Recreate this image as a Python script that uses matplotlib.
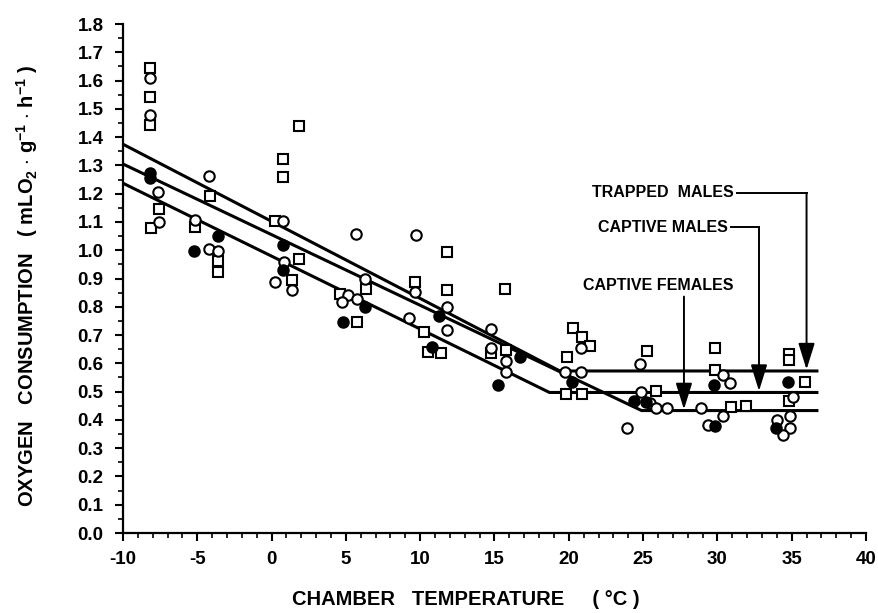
import numpy as np
import matplotlib
matplotlib.use("Agg")
import matplotlib.pyplot as plt
from matplotlib.ticker import MultipleLocator, FormatStrFormatter

plt.rcParams["font.family"] = ["Liberation Sans", "DejaVu Sans"]
plt.rcParams["font.weight"] = "bold"
plt.rcParams["mathtext.fontset"] = "custom"
plt.rcParams["mathtext.rm"] = "Liberation Sans:bold"
plt.rcParams["mathtext.it"] = "Liberation Sans:bold"
plt.rcParams["mathtext.bf"] = "Liberation Sans:bold"

# --- data --------------------------------------------------------------------
# open squares
sq_t = [-8.2, -8.2, -8.2, -7.6, -8.1, -5.15, -4.15, -3.6, -3.6,
        0.2, 0.75, 0.75, 1.85, 1.85, 1.4, 4.6, 5.77, 6.35,
        9.65, 10.25, 10.55, 11.4, 11.78, 11.78, 14.74, 15.75, 15.7,
        19.86, 20.3, 20.87, 21.45, 19.8, 20.87, 25.25, 25.9,
        29.85, 29.85, 30.9, 31.9, 34.84, 34.84, 35.92, 34.8]
sq_v = [1.643, 1.543, 1.443, 1.145, 1.080, 1.083, 1.193, 0.962, 0.922,
        1.104, 1.322, 1.260, 1.440, 0.968, 0.896, 0.844, 0.747, 0.862,
        0.889, 0.710, 0.641, 0.637, 0.993, 0.860, 0.635, 0.647, 0.862,
        0.623, 0.724, 0.694, 0.662, 0.493, 0.493, 0.644, 0.503,
        0.656, 0.578, 0.445, 0.450, 0.632, 0.612, 0.533, 0.466]

# open circles
oc_t = [-8.2, -8.2, -7.65, -7.6, -5.15, -4.2, -4.2, -3.6,
        0.78, 0.83, 0.25, 1.4, 5.7, 6.3, 5.16, 4.72, 5.73,
        9.7, 9.65, 9.27, 11.78, 11.78, 14.74, 14.74, 15.75, 15.75,
        19.77, 20.8, 20.8, 24.8, 24.84, 25.46, 25.9, 26.6, 23.9, 28.92,
        30.35, 30.85, 30.4, 29.4, 35.12, 34.9, 34.0, 34.88, 34.42]
oc_v = [1.609, 1.478, 1.205, 1.101, 1.107, 1.262, 1.003, 0.998,
        1.104, 0.959, 0.889, 0.858, 1.058, 0.900, 0.842, 0.816, 0.826,
        1.055, 0.853, 0.760, 0.798, 0.719, 0.720, 0.653, 0.609, 0.570,
        0.568, 0.568, 0.653, 0.599, 0.500, 0.459, 0.441, 0.441, 0.373, 0.442,
        0.560, 0.529, 0.414, 0.382, 0.482, 0.415, 0.398, 0.370, 0.345]

# filled circles
fc_t = [-8.2, -8.2, -5.2, -3.63, 0.78, 0.78, 6.28, 4.78,
        11.3, 10.8, 15.26, 16.7, 20.25, 24.4, 25.2,
        29.8, 29.87, 34.77, 33.97]
fc_v = [1.272, 1.254, 0.998, 1.051, 1.017, 0.930, 0.798, 0.747,
        0.769, 0.658, 0.523, 0.623, 0.535, 0.468, 0.465,
        0.523, 0.378, 0.535, 0.370]

# fitted lines: (temperature, VO2) break points
trapped_m_t = [-10, 19.4, 36.8]
trapped_m_v = [1.375, 0.573, 0.573]
captive_m_t = [-10, 18.7, 36.8]
captive_m_v = [1.237, 0.497, 0.497]
captive_f_t = [-10, 24.9, 36.8]
captive_f_v = [1.305, 0.433, 0.433]

# --- figure ------------------------------------------------------------------
fig = plt.figure(figsize=(8.79, 6.13), dpi=100)
ax = fig.add_axes([0.1399, 0.1305, 0.8453, 0.8303])

for t, v in [(trapped_m_t, trapped_m_v), (captive_m_t, captive_m_v),
             (captive_f_t, captive_f_v)]:
    ax.plot(t, v, color="black", lw=2.2, solid_capstyle="butt", zorder=2)

mk = dict(ms=7.5, mew=1.5, ls="none", zorder=3)
ax.plot(sq_t, sq_v, marker="s", mfc="white", mec="black", **mk)
ax.plot(oc_t, oc_v, marker="o", mfc="white", mec="black", **mk)
ax.plot(fc_t, fc_v, marker="o", mfc="black", mec="black", **mk)

# labelled arrows
arrow_kw = dict(arrowstyle="-|>,head_length=0.9,head_width=0.28", mutation_scale=18,
                lw=1.4, color="black", shrinkA=0, shrinkB=0)
ax.text(31.07, 1.203, "TRAPPED  MALES", ha="right", va="center", fontsize=11.5)
ax.plot([31.3, 36.0], [1.203, 1.203], color="black", lw=1.4)
ax.annotate("", xy=(36.0, 0.578), xytext=(36.0, 1.203), arrowprops=arrow_kw)

ax.text(30.69, 1.081, "CAPTIVE MALES", ha="right", va="center", fontsize=11.5)
ax.plot([30.9, 32.8], [1.081, 1.081], color="black", lw=1.4)
ax.annotate("", xy=(32.8, 0.502), xytext=(32.8, 1.081), arrowprops=arrow_kw)

ax.text(26.0, 0.877, "CAPTIVE FEMALES", ha="center", va="center", fontsize=11.5)
ax.annotate("", xy=(27.75, 0.437), xytext=(27.75, 0.836), arrowprops=arrow_kw)

# axes
ax.set_xlim(-10, 40)
ax.set_ylim(0, 1.8)
ax.spines["top"].set_visible(False)
ax.spines["right"].set_visible(False)
for s in ("left", "bottom"):
    ax.spines[s].set_linewidth(1.6)
ax.xaxis.set_major_locator(MultipleLocator(5))
ax.xaxis.set_minor_locator(MultipleLocator(1))
ax.yaxis.set_major_locator(MultipleLocator(0.1))
ax.yaxis.set_minor_locator(MultipleLocator(0.05))
ax.yaxis.set_major_formatter(FormatStrFormatter("%.1f"))
ax.xaxis.set_major_formatter(FormatStrFormatter("%d"))
ax.tick_params(which="major", direction="out", length=6, width=1.5, labelsize=13.5)
ax.tick_params(which="minor", direction="out", length=3.5, width=1.2)
ax.tick_params(axis="y", which="major", pad=8)
ax.tick_params(axis="x", which="major", pad=7)

ax.set_xlabel("CHAMBER   TEMPERATURE     ( °C )", fontsize=14.5, fontweight="bold")
ax.xaxis.set_label_coords(0.462, -0.112)
ax.set_ylabel(r"OXYGEN   CONSUMPTION   ( mLO$_2$ $\cdot$ g$^{-1}$ $\cdot$ h$^{-1}$ )",
              fontsize=14.5, fontweight="bold")
ax.yaxis.set_label_coords(-0.112, 0.486)

fig.savefig("out.png", dpi=100)
